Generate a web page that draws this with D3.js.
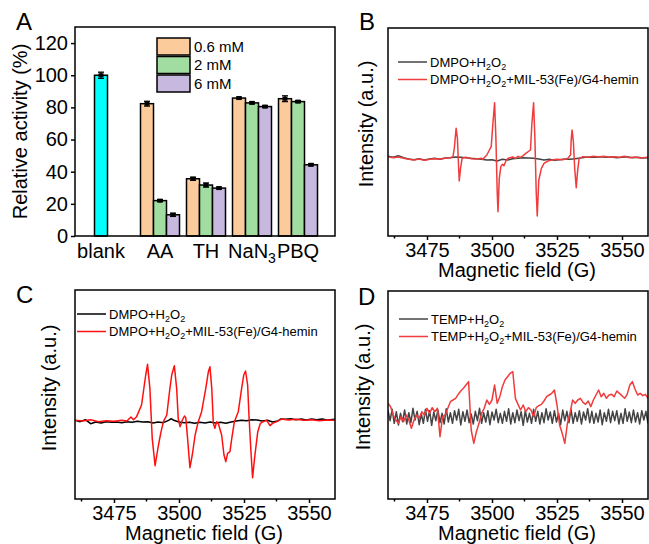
<!DOCTYPE html>
<html>
<head>
<meta charset="utf-8">
<script src="https://cdn.jsdelivr.net/npm/d3@7"></script>
<style>
  body { margin: 0; background: #fff; }
  svg { font-family: "Liberation Sans", Arial, sans-serif; }
</style>
</head>
<body>
<svg id="fig" width="649" height="544"></svg>
<script>
// ---------- panel A data ----------
const categories = ['blank', 'AA', 'TH', 'NaN_3', 'PBQ'];
const concentrations = ['0.6 mM', '2 mM', '6 mM'];
const blankActivity = [100];
const blankError = [1.9];
const act06 = [82.3, 35.6, 85.8, 85.4];
const err06 = [1.5, 1.0, 0.6, 1.8];
const act2 = [22.0, 31.7, 82.8, 83.6];
const err2 = [0.6, 1.3, 0.6, 0.6];
const act6 = [13.2, 29.8, 80.5, 44.3];
const err6 = [1.0, 0.6, 0.6, 0.6];
const yTicksA = [0, 20, 40, 60, 80, 100, 120];

// ---------- EPR spectra (field in G, intensity in a.u.) ----------
const fieldTicks = [3475, 3500, 3525, 3550];
const fieldMinor = [3462.5, 3487.5, 3512.5, 3537.5];

const bDmpo = [[3460,6],[3462,3],[3464,8],[3466,2],[3468,-2],[3470,-4],[3472,-1],[3474,-5],[3476,-2],[3478,0],
  [3480,-3],[3482,1],[3484,2],[3486,4],[3488,3],[3490,2],[3492,0],[3494,-1],[3496,-3],[3498,-5],[3500,-4],
  [3502,-8],[3504,-3],[3506,-5],[3508,-1],[3510,0],[3512,2],[3514,1],[3516,0],[3518,-2],[3520,-5],[3522,-3],
  [3524,-6],[3526,-4],[3528,-2],[3530,-3],[3532,-1],[3534,1],[3536,3],[3538,4],[3540,3],[3542,5],[3544,3],
  [3546,4],[3548,2],[3550,3],[3552,5],[3554,2],[3556,3],[3558,1],[3560,2]];
const bDmpoCat = [[3460,5],[3462,2],[3464,4],[3466,0],[3468,-3],[3470,-5],[3472,-2],[3474,-6],[3476,-3],[3478,-1],
  [3480,-2],[3482,0],[3484,2],[3485,5],[3485.5,30],[3486.2,90],[3486.7,60],[3487,0],[3487.4,-68],[3487.9,-30],
  [3488.5,0],[3490,3],[3492,-1],[3494,-2],[3496,0],[3496.5,-3],[3497,2],[3498,10],[3499,25],[3499.7,35],
  [3500.3,100],[3501,167],[3501.5,60],[3502,-100],[3502.3,-160],[3502.8,-60],[3503.4,-25],[3504,-18],[3504.6,-22],
  [3505.5,-5],[3506.2,0],[3507,2],[3508,4],[3509,0],[3510,6],[3511,3],[3512,8],[3513,15],[3514.8,25],[3515.3,100],
  [3516,167],[3516.5,60],[3517,-100],[3517.4,-173],[3518,-65],[3519,-30],[3520,-15],[3521.5,-8],[3523,-5],
  [3525,-3],[3527,-4],[3529,-1],[3530.2,10],[3530.5,60],[3530.8,85],[3531.3,50],[3531.8,-30],[3532.4,-88],
  [3532.9,-40],[3533.5,0],[3535,5],[3537,3],[3539,6],[3541,4],[3543,6],[3545,3],[3547,5],[3549,3],[3551,6],
  [3553,2],[3555,4],[3557,1],[3560,3]];

const cDmpo = [[3460,2],[3462,-2],[3464,4],[3466,-8],[3468,-3],[3470,-6],[3472,-2],[3474,-4],[3476,-3],[3478,-5],
  [3480,-2],[3482,-4],[3484,-1],[3486,-3],[3488,-2],[3490,-6],[3492,-3],[3494,-5],[3496,2],[3497,7],[3498,2],
  [3500,-3],[3502,-5],[3504,-4],[3506,-7],[3508,-4],[3510,-6],[3512,-3],[3514,-6],[3516,-4],[3518,-7],[3520,-3],
  [3522,0],[3524,2],[3526,1],[3528,4],[3530,3],[3532,0],[3534,2],[3536,-3],[3538,0],[3539,6],[3541,5],[3543,7],
  [3545,4],[3547,6],[3549,3],[3551,6],[3553,4],[3555,6],[3557,3],[3560,5]];
const cDmpoCat = [[3460,2],[3463,0],[3466,4],[3469,-2],[3472,1],[3475,-1],[3478,2],[3480,0],[3481.5,12],[3482.5,4],
  [3483.7,13],[3485.6,48],[3487.2,138],[3487.9,170],[3488.8,98],[3489.7,-52],[3490.8,-134],[3492.1,-72],[3493.1,-32],
  [3494,-2],[3495.3,18],[3496.5,98],[3497.2,138],[3498.2,166],[3499.1,98],[3499.7,8],[3500.4,-17],[3501.3,3],
  [3502.1,15],[3502.6,10],[3503.3,-52],[3504.2,-140],[3505.1,-102],[3506.2,-42],[3507.4,-2],[3508.7,28],[3510.3,98],
  [3511.3,148],[3511.9,163],[3512.6,98],[3513.2,-7],[3513.8,-22],[3514.5,-2],[3515.1,-7],[3516.4,-42],[3517.3,-102],
  [3518,-122],[3518.7,-97],[3519.6,-92],[3520.3,-52],[3521.3,-2],[3522.8,28],[3524.1,98],[3524.9,138],[3525.6,150],
  [3526.4,108],[3526.9,18],[3527.6,-82],[3528.3,-170],[3529.2,-102],[3530.3,-32],[3531.3,-7],[3532.4,-2],[3533.7,2],
  [3535,-14],[3536,-7],[3537.6,-2],[3539.5,6],[3542,3],[3545,5],[3548,2],[3551,4],[3554,1],[3557,3],[3560,2]];

// panel D: evenly spaced scans from 3460 to 3560 G
const dTempValues = [18,-12,22,-20,15,-25,10,-15,20,-22,12,-18,25,-10,16,-24,8,-20,22,-14,18,-26,14,-12,20,-18,
  10,-22,24,-16,12,-20,18,-10,22,-25,15,-14,20,-18,8,-22,16,-12,25,-20,12,-16,18,-24,14,-10,22,-18,10,-20,16,-14,
  24,-22,12,-18,20,-12,15,-26,18,-16,10,-20,22,-14,16,-22,12,-18,24,-10,14,-20,18,-16,10,-24,20,-12,16,-18,22,-20,
  12,-14,18,-22,14,-10,24,-18,16,-20,10,-16,20,-24,12,-14,22,-18,16,-12,18,-22,10,-20,24,-14,14,-18,20,-16,12,-22,
  18,-10,16,-20];
const dTempCatValues = [40,30,5,-10,-20,0,-15,5,-10,-35,-10,5,-5,15,5,25,10,27,15,25,-60,0,5,25,45,50,55,67,77,85,
  95,105,-40,-80,-45,-20,10,25,50,37,50,95,40,60,90,110,120,130,135,55,37,20,35,15,27,20,0,27,33,37,47,60,65,70,
  80,35,-25,-50,-80,-20,10,50,40,50,55,43,37,47,30,50,65,80,60,70,55,65,67,60,77,70,63,55,67,95,105,83,65,70,63,67,55];

// ---------- setup ----------
const svg = d3.select('#fig');
const red = '#f03c3c';

function richText(sel, str, subSize) {
  // "_d" marks a subscript digit
  const parts = str.split(/(_\d)/).filter(s => s.length);
  let sub = false;
  parts.forEach(p => {
    if (p[0] === '_') {
      sel.append('tspan').attr('font-size', subSize).attr('dy', subSize * 0.35).text(p.slice(1));
      sub = true;
    } else {
      sel.append('tspan').attr('dy', sub ? -subSize * 0.35 : 0).text(p);
      sub = false;
    }
  });
}

function panelLabel(x, y, t) {
  svg.append('text').attr('x', x).attr('y', y).attr('font-size', 24).text(t);
}

// ---------- panel A ----------
const A = { left: 75, right: 335, top: 27, bottom: 236 };
const gA = svg.append('g');
const xA = d3.scaleBand().domain(categories).range([91, 321]).padding(0);
const xSub = d3.scaleBand().domain(concentrations).range([3.5, 42.5]).padding(0);
const yA = d3.scaleLinear().domain([0, 130]).range([A.bottom, A.top]);
const barColors = d3.scaleOrdinal().domain(concentrations).range(['#fccb9b', '#a1dca1', '#c7b8e0']);

const bars = [];
bars.push({ cat: 'blank', conc: '0.6 mM', v: blankActivity[0], e: blankError[0], fill: '#00ffff' });
categories.slice(1).forEach((c, i) => {
  bars.push({ cat: c, conc: concentrations[0], v: act06[i], e: err06[i] });
  bars.push({ cat: c, conc: concentrations[1], v: act2[i], e: err2[i] });
  bars.push({ cat: c, conc: concentrations[2], v: act6[i], e: err6[i] });
});

gA.selectAll('rect.bar').data(bars).enter().append('rect')
  .attr('class', 'bar')
  .attr('x', d => xA(d.cat) + xSub(d.conc))
  .attr('y', d => yA(d.v))
  .attr('width', xSub.bandwidth())
  .attr('height', d => yA(0) - yA(d.v))
  .attr('fill', d => d.fill || barColors(d.conc))
  .attr('stroke', '#000').attr('stroke-width', 1.5);

const eb = gA.selectAll('g.err').data(bars).enter().append('g').attr('class', 'err')
  .attr('transform', d => `translate(${xA(d.cat) + xSub(d.conc) + xSub.bandwidth() / 2},0)`);
eb.append('line').attr('x1', 0).attr('x2', 0)
  .attr('y1', d => yA(d.v + d.e)).attr('y2', d => yA(d.v - d.e))
  .attr('stroke', '#000').attr('stroke-width', 1.3);
eb.append('line').attr('x1', -3).attr('x2', 3)
  .attr('y1', d => yA(d.v + d.e)).attr('y2', d => yA(d.v + d.e))
  .attr('stroke', '#000').attr('stroke-width', 1.3);
eb.append('line').attr('x1', -3).attr('x2', 3)
  .attr('y1', d => yA(d.v - d.e)).attr('y2', d => yA(d.v - d.e))
  .attr('stroke', '#000').attr('stroke-width', 1.3);
eb.append('rect').attr('x', -2.5).attr('width', 5)
  .attr('y', d => yA(d.v) - 2).attr('height', 4).attr('fill', '#000');

// frame + y axis
gA.append('rect').attr('x', A.left).attr('y', A.top)
  .attr('width', A.right - A.left).attr('height', A.bottom - A.top)
  .attr('fill', 'none').attr('stroke', '#000').attr('stroke-width', 1.5);
const axA = gA.append('g').attr('transform', `translate(${A.left},0)`)
  .call(d3.axisLeft(yA).tickValues(yTicksA).tickSizeInner(4).tickSizeOuter(0).tickPadding(3));
axA.select('.domain').remove();
axA.selectAll('line').attr('stroke-width', 1.5);
axA.selectAll('text').attr('font-size', 20).attr('font-family', null).attr('fill', '#000');

// x category labels
categories.forEach(c => {
  const cx = c === 'blank' ? xA(c) + xSub(concentrations[0]) + xSub.bandwidth() / 2 : xA(c) + xA.bandwidth() / 2;
  const t = gA.append('text').attr('x', cx).attr('y', 258)
    .attr('text-anchor', 'middle').attr('font-size', 20);
  richText(t, c, 14);
});

gA.append('text').attr('transform', `translate(27,${(A.top + A.bottom) / 2}) rotate(-90)`)
  .attr('text-anchor', 'middle').attr('font-size', 20).text('Relative activity (%)');

// legend
concentrations.forEach((c, i) => {
  const ly = 38 + i * 18.5;
  gA.append('rect').attr('x', 157).attr('y', ly).attr('width', 33).attr('height', 17)
    .attr('fill', barColors(c)).attr('stroke', '#000').attr('stroke-width', 1.5);
  gA.append('text').attr('x', 194).attr('y', ly + 8.5).attr('dy', '0.35em')
    .attr('font-size', 15).text(c);
});

panelLabel(16, 30, 'A');

// ---------- EPR panels ----------
function eprPanel(cfg) {
  const g = svg.append('g');
  const x = d3.scaleLinear().domain([3460, 3560]).range([cfg.left, cfg.right]);
  const y = d3.scaleLinear().domain(cfg.yDomain).range([cfg.bottom, cfg.top]);
  const clipId = 'clip' + cfg.id;
  g.append('clipPath').attr('id', clipId).append('rect')
    .attr('x', cfg.left).attr('y', cfg.top)
    .attr('width', cfg.right - cfg.left).attr('height', cfg.bottom - cfg.top);
  const line = d3.line().x(d => x(d[0])).y(d => y(d[1]));
  cfg.series.forEach(s => {
    g.append('path').datum(s.data).attr('d', line)
      .attr('clip-path', `url(#${clipId})`)
      .attr('fill', 'none').attr('stroke', s.color).attr('stroke-width', 1.5)
      .attr('stroke-linejoin', 'round');
  });
  g.append('rect').attr('x', cfg.left).attr('y', cfg.top)
    .attr('width', cfg.right - cfg.left).attr('height', cfg.bottom - cfg.top)
    .attr('fill', 'none').attr('stroke', '#000').attr('stroke-width', 1.5);
  const ax = g.append('g').attr('transform', `translate(0,${cfg.bottom})`)
    .call(d3.axisBottom(x).tickValues(fieldTicks).tickFormat(d3.format('d'))
      .tickSizeInner(4).tickSizeOuter(0).tickPadding(3));
  ax.select('.domain').remove();
  ax.selectAll('line').attr('stroke-width', 1.5);
  ax.selectAll('text').attr('font-size', 20).attr('font-family', null).attr('fill', '#000');
  g.selectAll('line.minor').data(fieldMinor).enter().append('line')
    .attr('class', 'minor')
    .attr('x1', d => x(d)).attr('x2', d => x(d))
    .attr('y1', cfg.bottom).attr('y2', cfg.bottom + 2.5)
    .attr('stroke', '#000').attr('stroke-width', 1.5);
  g.append('text').attr('x', (cfg.left + cfg.right) / 2 - 1).attr('y', cfg.bottom + 41)
    .attr('text-anchor', 'middle').attr('font-size', 20).text('Magnetic field (G)');
  g.append('text').attr('transform', `translate(${cfg.left - cfg.titleOff},${cfg.titleY}) rotate(-90)`)
    .attr('text-anchor', 'middle').attr('font-size', 20).text('Intensity (a.u.)');
  cfg.series.forEach((s, i) => {
    const ly = cfg.legendY + i * 17.5;
    g.append('line').attr('x1', cfg.legendX).attr('x2', cfg.legendX + 29)
      .attr('y1', ly).attr('y2', ly).attr('stroke', s.color).attr('stroke-width', 1.5);
    const t = g.append('text').attr('x', cfg.legendX + 32).attr('y', ly + 4.5).attr('font-size', 13);
    richText(t, s.label, 9);
  });
  panelLabel(cfg.labelX, cfg.labelY, cfg.id);
}

eprPanel({
  id: 'B', left: 388, right: 648, top: 28, bottom: 236, yDomain: [-233, 391],
  titleY: 124, titleOff: 15, legendX: 398, legendY: 62, labelX: 359, labelY: 30,
  series: [
    { data: bDmpo, color: '#444', label: 'DMPO+H_2O_2' },
    { data: bDmpoCat, color: red, label: 'DMPO+H_2O_2+MIL-53(Fe)/G4-hemin' }
  ]
});

eprPanel({
  id: 'C', left: 75, right: 335, top: 290, bottom: 499, yDomain: [-234, 393],
  titleY: 388, titleOff: 19, legendX: 77, legendY: 314, labelX: 16, labelY: 303,
  series: [
    { data: cDmpo, color: '#000', label: 'DMPO+H_2O_2' },
    { data: cDmpoCat, color: '#ff1010', label: 'DMPO+H_2O_2+MIL-53(Fe)/G4-hemin' }
  ]
});

const dStep = 100 / (dTempValues.length - 1);
const dTemp = dTempValues.map((v, i) => [3460 + i * dStep, v]);
const dStepCat = 100 / (dTempCatValues.length - 1);
const dTempCat = dTempCatValues.map((v, i) => [3460 + i * dStepCat, v]);

eprPanel({
  id: 'D', left: 388, right: 648, top: 291, bottom: 499, yDomain: [-247, 377],
  titleY: 387, titleOff: 18, legendX: 399, legendY: 319, labelX: 358, labelY: 305,
  series: [
    { data: dTemp, color: '#444', label: 'TEMP+H_2O_2' },
    { data: dTempCat, color: red, label: 'TEMP+H_2O_2+MIL-53(Fe)/G4-hemin' }
  ]
});
</script>
</body>
</html>
